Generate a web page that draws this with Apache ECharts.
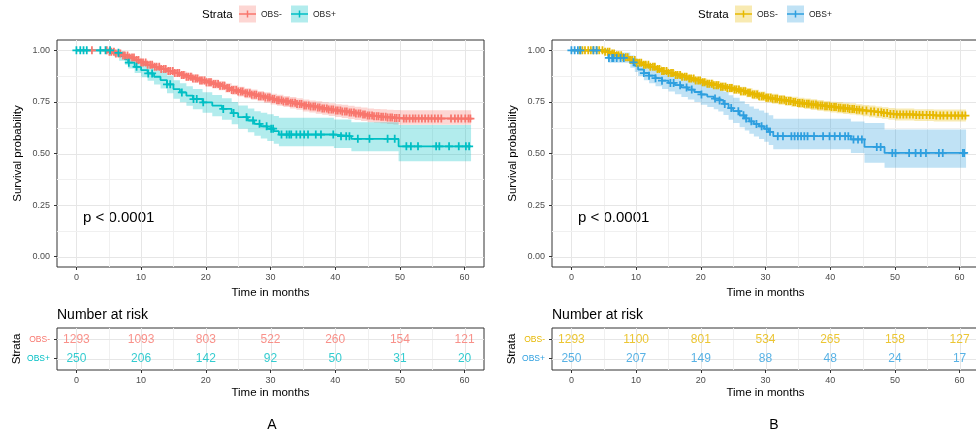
<!DOCTYPE html>
<html>
<head>
<meta charset="utf-8">
<script src="https://cdn.jsdelivr.net/npm/echarts@6/dist/echarts.min.js"></script>
<style>
  html, body { margin: 0; padding: 0; background: #fff; }
  #chart { width: 976px; height: 438px; }
</style>
</head>
<body>
<div id="chart"></div>
<script>
// ---------- axis ticks ----------
const xTicks = [0, 10, 20, 30, 40, 50, 60];
const xMinor = [5, 15, 25, 35, 45, 55];
const yTicks = [0, 0.25, 0.5, 0.75, 1];
const yMinor = [0.125, 0.375, 0.625, 0.875];
const riskRows = [1, 2];

// ---------- panel A ----------
const aNegTime  = [0,5,6,7,8,9,10,11,12,13,14,15,16,17,18,19,20,21,22,23,24,25,26,27,28,29,30,31,32,33,34,35,36,37,38,39,40,41,42,43,44,45,46,47,48,49,50,61];
const aNegSurv  = [1,0.993,0.985,0.975,0.965,0.953,0.941,0.930,0.920,0.910,0.900,0.890,0.881,0.872,0.863,0.854,0.845,0.837,0.828,0.818,0.808,0.800,0.792,0.785,0.778,0.771,0.764,0.758,0.752,0.746,0.740,0.733,0.728,0.723,0.718,0.713,0.708,0.704,0.699,0.694,0.689,0.684,0.681,0.678,0.675,0.672,0.669,0.669];
const aNegLower = [1,0.988,0.978,0.967,0.955,0.942,0.928,0.916,0.905,0.894,0.883,0.872,0.862,0.853,0.843,0.834,0.824,0.815,0.806,0.795,0.785,0.776,0.768,0.760,0.753,0.745,0.738,0.731,0.725,0.718,0.712,0.704,0.699,0.693,0.688,0.682,0.677,0.672,0.667,0.662,0.657,0.652,0.649,0.646,0.643,0.641,0.639,0.639];
const aNegUpper = [1,0.998,0.992,0.983,0.975,0.964,0.954,0.944,0.935,0.926,0.917,0.908,0.900,0.891,0.883,0.874,0.866,0.859,0.850,0.841,0.831,0.824,0.816,0.810,0.803,0.797,0.790,0.785,0.779,0.774,0.768,0.762,0.757,0.753,0.748,0.744,0.739,0.736,0.731,0.727,0.723,0.718,0.716,0.714,0.712,0.711,0.710,0.710];
const aNegCensor = [2.4,4.7,5.1,5.4,5.8,6.1,6.5,6.8,7.2,7.5,7.9,8.2,8.6,8.9,9.3,9.6,10.0,10.3,10.7,11.0,11.4,11.7,12.1,12.4,12.8,13.1,13.5,13.8,14.2,14.5,14.9,15.2,15.6,15.9,16.3,16.6,17.0,17.3,17.7,18.0,18.4,18.7,19.1,19.4,19.8,20.1,20.5,20.8,21.2,21.5,21.9,22.2,22.6,22.9,23.3,23.6,24.0,24.3,24.7,25.0,25.4,25.7,26.1,26.4,26.8,27.1,27.5,27.8,28.2,28.5,28.9,29.2,29.6,29.9,30.3,30.6,31.0,31.3,31.7,32.0,32.4,32.7,33.1,33.4,33.8,34.1,34.5,34.8,35.2,35.5,35.9,36.2,36.6,36.9,37.3,37.6,38.0,38.3,38.7,39.0,39.4,39.7,40.1,40.4,40.8,41.1,41.5,41.8,42.2,42.5,42.9,43.2,43.6,43.9,44.3,44.6,45.0,45.3,45.7,46.0,46.4,46.7,47.1,47.4,47.8,48.1,48.5,48.8,49.2,49.5,49.9,50.6,51.0,51.5,52.0,52.4,52.9,53.4,53.9,54.4,54.9,55.4,55.9,56.4,57.9,58.5,59.0,59.5,60.1,60.6,60.9];

const aPosTime  = [0,5.8,6.6,7.5,8,9,10,11,12,13,14,15,16,17,18,19.5,21,22.5,24,25,26.5,27.5,28.5,29.5,30.5,31.3,39.8,42.5,49.8,61];
const aPosSurv  = [1,0.988,0.972,0.956,0.940,0.920,0.904,0.888,0.872,0.856,0.835,0.812,0.796,0.780,0.764,0.748,0.732,0.716,0.696,0.676,0.660,0.644,0.632,0.620,0.608,0.592,0.584,0.571,0.535,0.535];
const aPosLower = [1,0.970,0.950,0.930,0.912,0.890,0.870,0.852,0.834,0.815,0.792,0.765,0.748,0.731,0.714,0.697,0.680,0.663,0.642,0.620,0.603,0.586,0.573,0.560,0.547,0.535,0.527,0.511,0.463,0.463];
const aPosUpper = [1,1.000,0.995,0.985,0.972,0.955,0.940,0.926,0.912,0.898,0.878,0.855,0.840,0.826,0.812,0.797,0.783,0.768,0.750,0.733,0.718,0.705,0.697,0.690,0.682,0.673,0.665,0.652,0.638,0.638];
const aPosCensor = [0,0.6,1.1,1.6,3.7,4.5,5.2,6.5,8.1,9.3,11.1,11.7,14.0,14.5,16.3,18.1,18.6,19.6,22.7,24.3,26.3,27.3,28.3,29.4,30.1,30.4,31.7,32.5,32.9,33.2,34.0,34.6,35.2,35.8,37.0,37.8,39.7,40.9,41.7,42.2,43.5,45.3,48.1,49.2,51.0,51.7,52.8,55.6,56.1,57.6,59.1,60.2,60.7];

const aNegRisk = [1293, 1093, 803, 522, 260, 154, 121];
const aPosRisk = [250, 206, 142, 92, 50, 31, 20];

// ---------- panel B ----------
const bNegTime  = [0,5,6,7,8,9,10,11,12,13,14,15,16,17,18,19,20,21,22,23,24,25,26,27,28,29,30,31,32,33,34,35,36,37,38,39,40,41,42,43,44,45,46,47,48,49,50,53,56,61];
const bNegSurv  = [1,0.993,0.985,0.976,0.966,0.953,0.940,0.930,0.920,0.910,0.900,0.890,0.881,0.872,0.863,0.854,0.845,0.838,0.831,0.824,0.817,0.810,0.802,0.794,0.786,0.778,0.770,0.765,0.760,0.755,0.750,0.745,0.741,0.737,0.733,0.729,0.725,0.722,0.719,0.716,0.712,0.708,0.704,0.700,0.696,0.692,0.689,0.686,0.684,0.684];
const bNegLower = [1,0.988,0.979,0.969,0.958,0.944,0.928,0.917,0.906,0.895,0.885,0.874,0.864,0.855,0.845,0.836,0.826,0.819,0.811,0.804,0.796,0.789,0.780,0.772,0.763,0.755,0.747,0.741,0.736,0.731,0.725,0.720,0.716,0.711,0.707,0.703,0.699,0.695,0.692,0.689,0.685,0.681,0.676,0.672,0.668,0.664,0.660,0.657,0.655,0.655];
const bNegUpper = [1,0.998,0.991,0.983,0.974,0.962,0.952,0.943,0.934,0.925,0.915,0.906,0.898,0.889,0.881,0.872,0.864,0.857,0.851,0.844,0.838,0.831,0.824,0.816,0.809,0.801,0.793,0.789,0.784,0.779,0.775,0.770,0.766,0.763,0.759,0.755,0.751,0.749,0.746,0.743,0.739,0.735,0.732,0.728,0.724,0.720,0.718,0.715,0.713,0.713];
const bNegCensor = [1.3,1.7,2.1,2.6,3.0,3.4,3.9,4.3,4.8,5.2,5.6,5.9,6.3,6.6,7.0,7.3,7.7,8.0,8.4,8.7,9.1,9.4,9.8,10.1,10.5,10.8,11.2,11.5,11.9,12.2,12.6,12.9,13.3,13.6,14.0,14.3,14.7,15.0,15.4,15.7,16.1,16.4,16.8,17.1,17.5,17.8,18.2,18.5,18.9,19.2,19.6,19.9,20.3,20.6,21.0,21.3,21.7,22.0,22.4,22.7,23.1,23.4,23.8,24.1,24.5,24.8,25.2,25.5,25.9,26.2,26.6,26.9,27.3,27.6,28.0,28.3,28.7,29.0,29.4,29.7,30.1,30.4,30.8,31.1,31.5,31.8,32.2,32.5,32.9,33.2,33.6,33.9,34.3,34.6,35.0,35.3,35.7,36.0,36.4,36.7,37.1,37.4,37.8,38.1,38.5,38.8,39.2,39.5,39.9,40.2,40.6,40.9,41.3,41.6,42.0,42.3,42.7,43.0,43.4,43.7,44.1,44.5,45.0,45.6,46.3,46.8,47.4,47.9,48.3,48.8,49.3,49.8,50.3,50.8,51.3,51.8,52.3,52.8,53.3,53.8,54.3,54.9,55.4,55.9,56.4,57.0,57.5,58.1,58.7,59.3,59.8,60.4,60.9];

const bPosTime  = [0,5.7,9.1,9.8,10.3,11.2,12,13,14,15,16,17,18,19,20,21,22,22.7,23.5,24.3,25,26,26.8,27.5,28.2,29,29.8,30.5,31.2,43.2,45.3,48.4,61];
const bPosSurv  = [1,0.963,0.942,0.925,0.907,0.890,0.877,0.865,0.853,0.842,0.831,0.820,0.810,0.798,0.786,0.776,0.766,0.757,0.740,0.720,0.705,0.685,0.670,0.656,0.643,0.632,0.620,0.605,0.584,0.568,0.532,0.503,0.503];
const bPosLower = [1,0.940,0.915,0.895,0.875,0.855,0.840,0.826,0.812,0.800,0.787,0.774,0.762,0.749,0.736,0.725,0.714,0.704,0.686,0.664,0.648,0.627,0.611,0.596,0.582,0.570,0.557,0.541,0.520,0.503,0.455,0.431,0.431];
const bPosUpper = [1,0.990,0.975,0.960,0.945,0.930,0.918,0.907,0.897,0.887,0.878,0.869,0.860,0.850,0.840,0.831,0.822,0.814,0.800,0.782,0.770,0.753,0.740,0.728,0.717,0.708,0.698,0.685,0.668,0.655,0.648,0.616,0.616];
const bPosCensor = [0,0.5,1.0,1.4,3.4,3.9,5.8,6.3,6.5,7.0,7.6,8.1,9.6,11.2,12.0,13.0,14.0,15.3,15.8,16.8,17.8,18.6,20.1,22.2,22.9,23.7,24.7,25.8,26.6,27.0,27.8,28.6,29.4,30.2,30.7,31.9,32.7,34.0,34.5,35.0,35.5,36.0,36.5,37.5,38.9,39.9,40.7,41.5,42.3,42.8,43.6,44.3,44.9,47.2,47.8,49.6,50.1,52.2,53.2,54.0,54.8,56.8,57.4,60.5,60.7];

const bNegRisk = [1293, 1100, 801, 534, 265, 158, 127];
const bPosRisk = [250, 207, 149, 88, 48, 24, 17];

const riskTimes = [0, 10, 20, 30, 40, 50, 60];
const strataNames = ['OBS-', 'OBS+'];

// ---------- styling ----------
const FONT = "'Liberation Sans', Arial, Helvetica, sans-serif";
const COLORS = {
  aNeg: '#F8766D', aPos: '#00BFC4',
  bNeg: '#E7B800', bPos: '#2E9FDF'
};
function rgba(hex, a) {
  const n = parseInt(hex.slice(1), 16);
  return 'rgba(' + (n >> 16) + ',' + ((n >> 8) & 255) + ',' + (n & 255) + ',' + a + ')';
}

// value of a step curve at time c
function survAt(times, vals, c) {
  let v = vals[0];
  for (let i = 0; i < times.length; i++) if (times[i] <= c) v = vals[i];
  return v;
}

// background grid lines drawn through the axis scales
function gridLineSeries(axisIdx, xs, xsMinor, ys, ysMinor) {
  const data = [];
  xs.forEach(v => data.push([0, v, 1]));
  xsMinor.forEach(v => data.push([0, v, 0]));
  ys.forEach(v => data.push([1, v, 1]));
  ysMinor.forEach(v => data.push([1, v, 0]));
  return {
    type: 'custom', xAxisIndex: axisIdx, yAxisIndex: axisIdx, z: 1, silent: true,
    data: data,
    renderItem: function (params, api) {
      const cs = params.coordSys;
      const dir = api.value(0), v = api.value(1), major = api.value(2);
      let shape;
      if (dir === 0) {
        const x = Math.round(api.coord([v, 1])[0]) + 0.5;
        shape = { x1: x, y1: cs.y, x2: x, y2: cs.y + cs.height };
      } else {
        const y = Math.round(api.coord([0, v])[1]) + 0.5;
        shape = { x1: cs.x, y1: y, x2: cs.x + cs.width, y2: y };
      }
      return { type: 'line', shape: shape,
        style: { stroke: major ? '#E6E6E6' : '#F0F0F0', lineWidth: 1 } };
    }
  };
}

// stepped confidence band as one polygon
function bandSeries(axisIdx, times, lower, upper, color) {
  return {
    type: 'custom', xAxisIndex: axisIdx, yAxisIndex: axisIdx, z: 2, silent: true,
    clip: true,
    data: [[times[0], lower[0]]],
    renderItem: function (params, api) {
      const pts = [];
      for (let i = 0; i < times.length - 1; i++) {
        pts.push(api.coord([times[i], upper[i]]));
        pts.push(api.coord([times[i + 1], upper[i]]));
      }
      for (let i = times.length - 2; i >= 0; i--) {
        pts.push(api.coord([times[i + 1], lower[i]]));
        pts.push(api.coord([times[i], lower[i]]));
      }
      return { type: 'polygon', shape: { points: pts },
        style: { fill: rgba(color, 0.3), stroke: null } };
    }
  };
}

function curveSeries(axisIdx, times, surv, color) {
  return {
    type: 'line', xAxisIndex: axisIdx, yAxisIndex: axisIdx, z: 3,
    step: 'end', symbol: 'none', silent: true,
    data: times.map((t, i) => [t, surv[i]]),
    lineStyle: { color: color, width: 1.8 }
  };
}

const PLUS = 'path://M0,3.9H10V6.1H0Z M3.9,0H6.1V10H3.9Z';
function censorSeries(axisIdx, censor, times, surv, color) {
  return {
    type: 'scatter', xAxisIndex: axisIdx, yAxisIndex: axisIdx, z: 4, silent: true,
    symbol: PLUS, symbolSize: 8,
    data: censor.map(c => [c, survAt(times, surv, c)]),
    itemStyle: { color: color, opacity: 1 }
  };
}

function riskSeries(axisIdx, row, counts, color) {
  return {
    type: 'scatter', xAxisIndex: axisIdx, yAxisIndex: axisIdx, z: 5, silent: true,
    symbol: 'circle', symbolSize: 1,
    itemStyle: { color: 'rgba(0,0,0,0)' },
    data: riskTimes.map((t, i) => [t, row, counts[i]]),
    label: { show: true, position: 'inside', formatter: p => String(p.value[2]),
      color: color, fontSize: 12, fontFamily: FONT }
  };
}

function makeGrid(left, top, height) {
  return { left: left, top: top, width: 427, height: height, show: true,
    borderColor: '#333333', borderWidth: 1, backgroundColor: '#ffffff',
    containLabel: false, outerBoundsMode: 'none' };
}

function xAxisDef(gi, gap) {
  return {
    gridIndex: gi, type: 'value', min: -3, max: 63, position: 'bottom',
    axisLine: { show: false, onZero: false }, splitLine: { show: false },
    axisTick: { show: true, customValues: xTicks, length: 3, lineStyle: { color: '#333', width: 1 } },
    axisLabel: { customValues: xTicks, color: '#4D4D4D', fontSize: 9, margin: 6, fontFamily: FONT },
    name: 'Time in months', nameLocation: 'middle', nameGap: gap,
    nameTextStyle: { color: '#000', fontSize: 11.5, fontFamily: FONT }
  };
}

function yMainDef(gi) {
  return {
    gridIndex: gi, type: 'value', min: -0.05, max: 1.05, position: 'left',
    axisLine: { show: false, onZero: false }, splitLine: { show: false },
    axisTick: { show: true, customValues: yTicks, length: 3, lineStyle: { color: '#333', width: 1 } },
    axisLabel: { customValues: yTicks, color: '#4D4D4D', fontSize: 9, margin: 7, fontFamily: FONT,
      formatter: v => Number(v).toFixed(2) },
    name: 'Survival probability', nameLocation: 'middle', nameGap: 33,
    nameTextStyle: { color: '#000', fontSize: 11.5, fontFamily: FONT }
  };
}

function yRiskDef(gi, negColor, posColor) {
  return {
    gridIndex: gi, type: 'value', min: 0.4, max: 2.6, position: 'left',
    axisLine: { show: false, onZero: false }, splitLine: { show: false },
    axisTick: { show: true, customValues: riskRows, length: 3, lineStyle: { color: '#333', width: 1 } },
    axisLabel: { customValues: riskRows, margin: 7, fontSize: 8.5, fontFamily: FONT,
      formatter: v => (Number(v) === 2 ? '{neg|' + strataNames[0] + '}' : '{pos|' + strataNames[1] + '}'),
      rich: { neg: { color: negColor, fontSize: 8.5, fontFamily: FONT },
              pos: { color: posColor, fontSize: 8.5, fontFamily: FONT } } },
    name: 'Strata', nameLocation: 'middle', nameGap: 34,
    nameTextStyle: { color: '#000', fontSize: 11.5, fontFamily: FONT }
  };
}

// legend above each panel
function legendGroup(x0, negColor, posColor) {
  const els = [];
  els.push({ type: 'text', x: x0, y: 14.5,
    style: { text: 'Strata', fontSize: 11.5, fontFamily: FONT, fill: '#000', align: 'left', verticalAlign: 'middle' } });
  const keys = [[x0 + 37, negColor, strataNames[0]], [x0 + 89, posColor, strataNames[1]]];
  keys.forEach(k => {
    const kx = k[0], c = k[1];
    els.push({ type: 'rect', shape: { x: kx, y: 5.5, width: 17, height: 17 }, style: { fill: rgba(c, 0.3) } });
    els.push({ type: 'line', shape: { x1: kx, y1: 14, x2: kx + 17, y2: 14 }, style: { stroke: c, lineWidth: 1.5 } });
    els.push({ type: 'line', shape: { x1: kx + 8.5, y1: 10.5, x2: kx + 8.5, y2: 17.5 }, style: { stroke: c, lineWidth: 1.5 } });
    els.push({ type: 'text', x: kx + 22, y: 14.5,
      style: { text: k[2], fontSize: 8.5, fontFamily: FONT, fill: '#222', align: 'left', verticalAlign: 'middle' } });
  });
  return els;
}

function textEl(x, y, str, size, align) {
  return { type: 'text', x: x, y: y,
    style: { text: str, fontSize: size, fontFamily: FONT, fill: '#000', align: align || 'left', verticalAlign: 'middle' } };
}

const chart = echarts.init(document.getElementById('chart'), null, { renderer: 'canvas' });

const option = {
  animation: false,
  backgroundColor: '#ffffff',
  grid: [
    makeGrid(57, 40, 227),
    makeGrid(57, 328, 42),
    makeGrid(552, 40, 227),
    makeGrid(552, 328, 42)
  ],
  xAxis: [xAxisDef(0, 18), xAxisDef(1, 17), xAxisDef(2, 18), xAxisDef(3, 17)],
  yAxis: [
    yMainDef(0),
    yRiskDef(1, COLORS.aNeg, COLORS.aPos),
    yMainDef(2),
    yRiskDef(3, COLORS.bNeg, COLORS.bPos)
  ],
  series: [
    gridLineSeries(0, xTicks, xMinor, yTicks, yMinor),
    gridLineSeries(1, xTicks, xMinor, riskRows, []),
    gridLineSeries(2, xTicks, xMinor, yTicks, yMinor),
    gridLineSeries(3, xTicks, xMinor, riskRows, []),

    bandSeries(0, aNegTime, aNegLower, aNegUpper, COLORS.aNeg),
    bandSeries(0, aPosTime, aPosLower, aPosUpper, COLORS.aPos),
    curveSeries(0, aNegTime, aNegSurv, COLORS.aNeg),
    curveSeries(0, aPosTime, aPosSurv, COLORS.aPos),
    censorSeries(0, aNegCensor, aNegTime, aNegSurv, COLORS.aNeg),
    censorSeries(0, aPosCensor, aPosTime, aPosSurv, COLORS.aPos),

    bandSeries(2, bNegTime, bNegLower, bNegUpper, COLORS.bNeg),
    bandSeries(2, bPosTime, bPosLower, bPosUpper, COLORS.bPos),
    curveSeries(2, bNegTime, bNegSurv, COLORS.bNeg),
    curveSeries(2, bPosTime, bPosSurv, COLORS.bPos),
    censorSeries(2, bNegCensor, bNegTime, bNegSurv, COLORS.bNeg),
    censorSeries(2, bPosCensor, bPosTime, bPosSurv, COLORS.bPos),

    riskSeries(1, 2, aNegRisk, COLORS.aNeg),
    riskSeries(1, 1, aPosRisk, COLORS.aPos),
    riskSeries(3, 2, bNegRisk, COLORS.bNeg),
    riskSeries(3, 1, bPosRisk, COLORS.bPos)
  ],
  graphic: [].concat(
    legendGroup(202, COLORS.aNeg, COLORS.aPos),
    legendGroup(698, COLORS.bNeg, COLORS.bPos),
    [
      textEl(83, 218, 'p < 0.0001', 15),
      textEl(578, 218, 'p < 0.0001', 15),
      textEl(57, 315, 'Number at risk', 14),
      textEl(552, 315, 'Number at risk', 14),
      textEl(272, 425, 'A', 14, 'center'),
      textEl(774, 425, 'B', 14, 'center')
    ]
  )
};

chart.setOption(option);
</script>
</body>
</html>
